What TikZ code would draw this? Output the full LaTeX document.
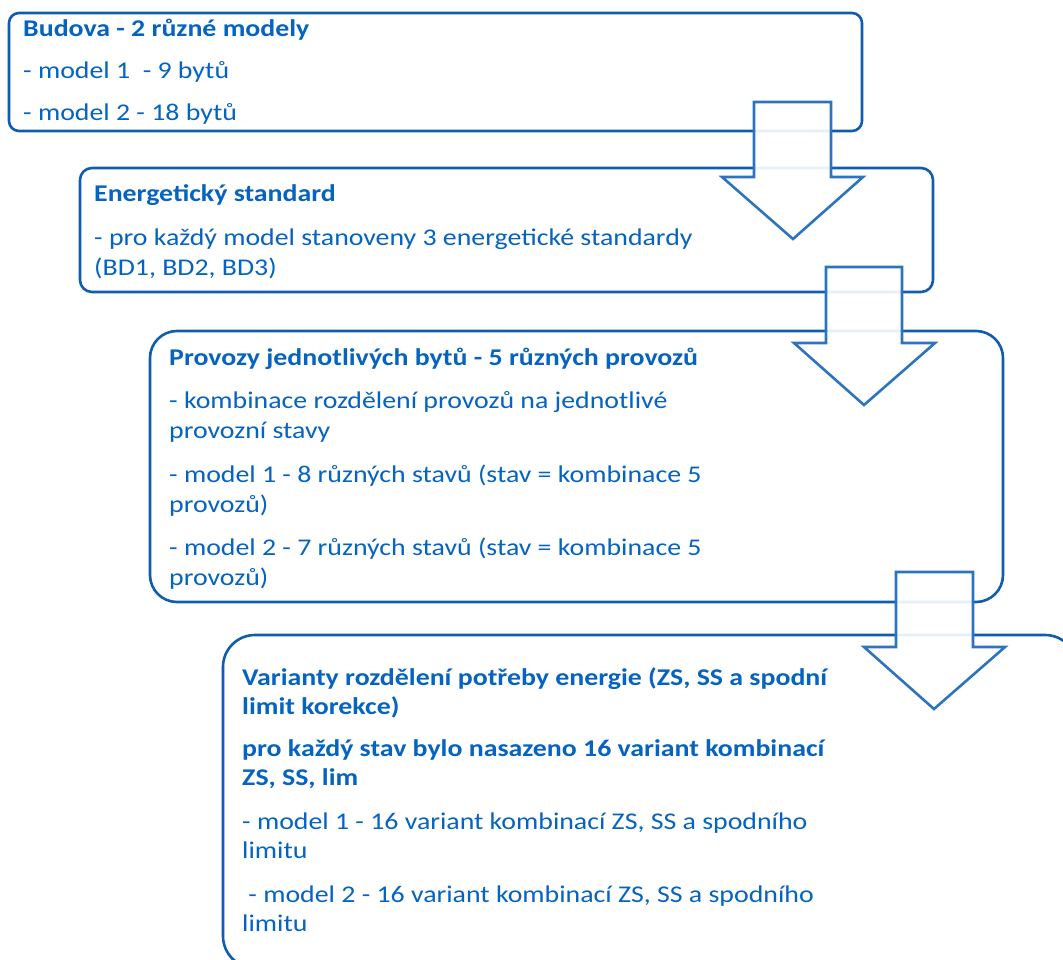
\documentclass[tikz,border=0pt]{standalone}
\usepackage{fontspec}
\setmainfont{Carlito}[FakeStretch=1.16]
\definecolor{txtblue}{RGB}{5,99,193}
\definecolor{boxblue}{RGB}{16,92,174}
\definecolor{arrblue}{RGB}{44,116,190}
\begin{document}
\begin{tikzpicture}[x=1pt,y=-1pt,
  boxline/.style={draw=boxblue,line width=2.6pt,fill=white},
  blockarrow/.style={draw=arrblue,line width=2.6pt,fill=white,fill opacity=0.9,line join=miter},
  ln/.style={anchor=base west,inner sep=0pt,text=txtblue,font=\fontsize{24}{29}\selectfont},
  lb/.style={ln,font=\fontsize{24}{29}\selectfont\bfseries}]
\useasboundingbox (0,0) rectangle (1063,960);
\clip (0,0) rectangle (1063,960);
\fill[white] (0,0) rectangle (1063,960);
% boxes
\draw[boxline,rounded corners=10pt] (9,13) rectangle (862,131);
\draw[boxline,rounded corners=12pt] (80,168) rectangle (933,292);
\draw[boxline,rounded corners=27pt] (150,331) rectangle (1003,602);
\draw[boxline,rounded corners=32pt] (223,635) rectangle (1077,968);
% texts box 1
\node[lb] (b1t) at (23,37) {Budova - 2 různé modely};
\node[ln] (b1a) at (23,79) {- model 1\ \ - 9 bytů};
\node[ln] (b1b) at (23,121) {- model 2 - 18 bytů};
% box 2
\node[lb] (b2t) at (94,202) {Energetický standard};
\node[ln] (b2a) at (94,245) {- pro každý model stanoveny 3 energetické standardy};
\node[ln] (b2b) at (94,275) {(BD1, BD2, BD3)};
% box 3
\node[lb] (b3t) at (169,365) {Provozy jednotlivých bytů - 5 různých provozů};
\node[ln] (b3a) at (169,408) {- kombinace rozdělení provozů na jednotlivé};
\node[ln] (b3b) at (169,438) {provozní stavy};
\node[ln] (b3c) at (169,482) {- model 1 - 8 různých stavů (stav = kombinace 5};
\node[ln] (b3d) at (169,512) {provozů)};
\node[ln] (b3e) at (169,555) {- model 2 - 7 různých stavů (stav = kombinace 5};
\node[ln] (b3f) at (169,585) {provozů)};
% box 4
\node[lb] (b4t) at (242,685) {Varianty rozdělení potřeby energie (ZS, SS a spodní};
\node[lb] (b4u) at (242,714) {limit korekce)};
\node[lb] (b4a) at (242,756) {pro každý stav bylo nasazeno 16 variant kombinací};
\node[lb] (b4b) at (242,785) {ZS, SS, lim};
\node[ln] (b4c) at (242,829) {- model 1 - 16 variant kombinací ZS, SS a spodního};
\node[ln] (b4d) at (242,858) {limitu};
\node[ln] (b4e) at (242,902) {\ - model 2 - 16 variant kombinací ZS, SS a spodního};
\node[ln] (b4f) at (242,931) {limitu};
% block arrows
\draw[blockarrow] (754,102) -- (831,102) -- (831,177) -- (863,177) -- (793,239) -- (722,177) -- (754,177) -- cycle;
\draw[blockarrow] (826,267) -- (902,267) -- (902,343) -- (935,343) -- (864,405) -- (794,343) -- (826,343) -- cycle;
\draw[blockarrow] (896,572) -- (973,572) -- (973,647) -- (1005,647) -- (934,709) -- (864,647) -- (896,647) -- cycle;
\end{tikzpicture}
\end{document}
